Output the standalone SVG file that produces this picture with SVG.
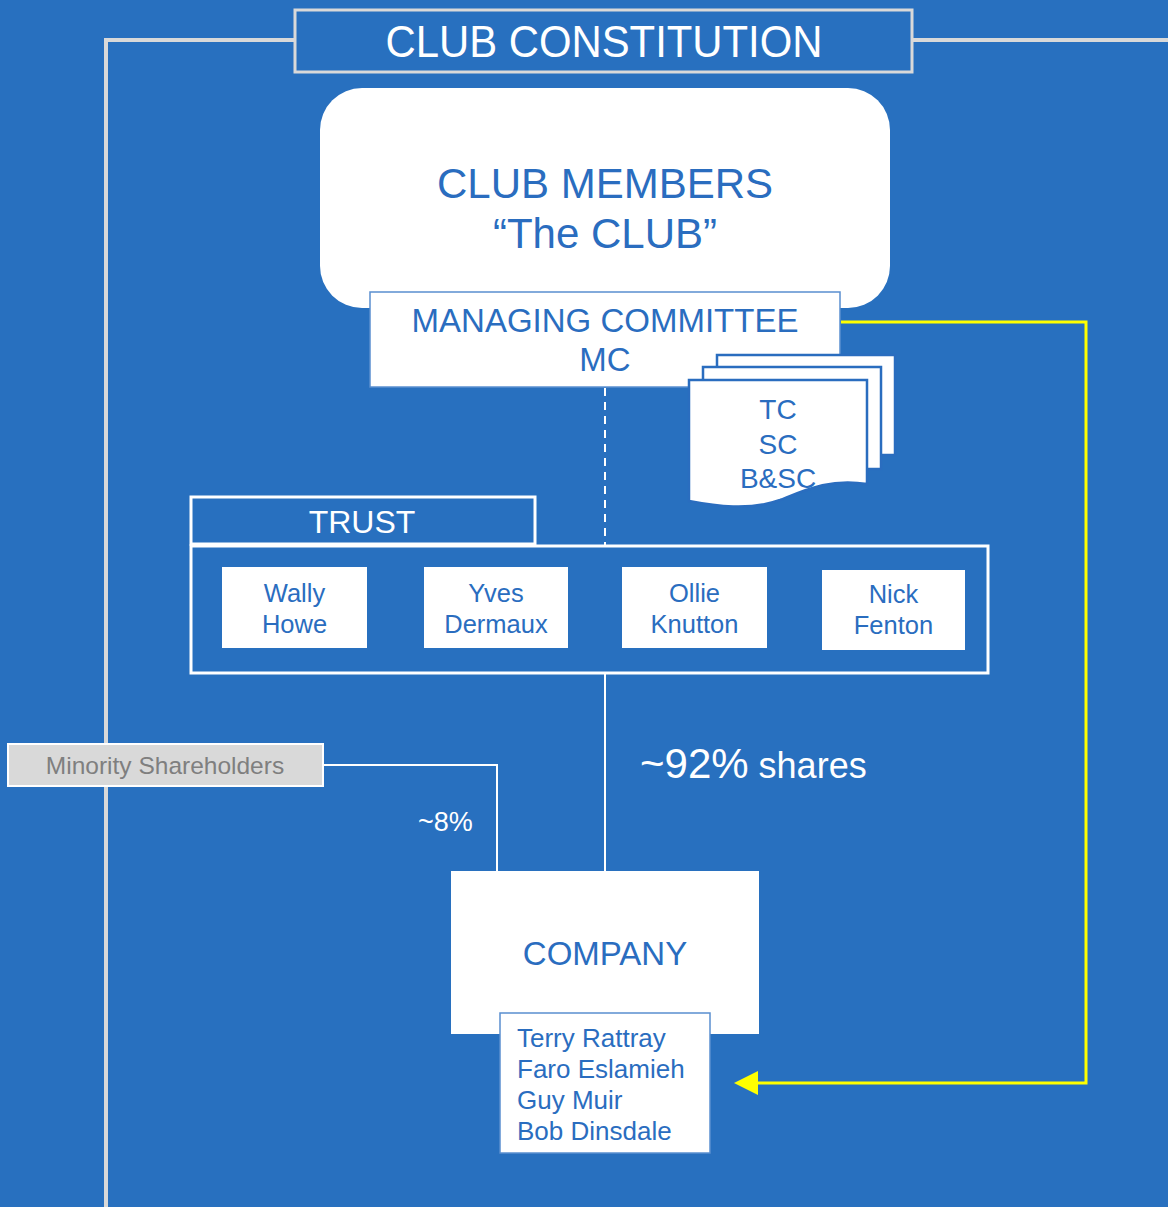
<svg xmlns="http://www.w3.org/2000/svg" width="1168" height="1207" viewBox="0 0 1168 1207">
<defs>
<style>
.t{font-family:"Liberation Sans",Arial,sans-serif;}
.w{fill:#ffffff;}
.b{fill:#2A6DBF;}
.box{fill:#ffffff;}
.frame{fill:none;stroke:#ffffff;stroke-width:3;}
.page{fill:#ffffff;stroke:#2A6DBF;stroke-width:2.5;}
</style>
</defs>
<rect x="0" y="0" width="1168" height="1207" fill="#2870BF"/>
<g id="connectors" fill="none">
<path d="M106,1207 V40 H295 M912,40 H1168" stroke="#d9d9d9" stroke-width="4"/>
<line x1="605" y1="388" x2="605" y2="545" stroke="#ffffff" stroke-width="2" stroke-dasharray="8,6"/>
<line x1="605" y1="673" x2="605" y2="871" stroke="#ffffff" stroke-width="2"/>
<path d="M323,765 H497 V871" stroke="#ffffff" stroke-width="2"/>
<path d="M841,322 H1086 V1083 H750" stroke="#ffff00" stroke-width="3"/>
<path d="M734,1083 L758,1071 L758,1095 Z" fill="#ffff00"/>
</g>
<g id="constitution">
<rect x="295" y="10" width="617" height="62" fill="#2870BF" stroke="#d9d9d9" stroke-width="3"/>
<text class="t w" x="604" y="57" font-size="44" text-anchor="middle" textLength="437" lengthAdjust="spacingAndGlyphs">CLUB CONSTITUTION</text>
</g>
<g id="members">
<rect x="320" y="88" width="570" height="220" rx="42" class="box"/>
<text class="t b" x="605" y="198" font-size="42" text-anchor="middle">CLUB MEMBERS</text>
<text class="t b" x="605" y="248" font-size="42" text-anchor="middle">“The CLUB”</text>
</g>
<g id="mc">
<rect x="370" y="292" width="470" height="95" fill="#ffffff" stroke="#5a8fd0" stroke-width="1.5"/>
<text class="t b" x="605" y="332" font-size="33" text-anchor="middle">MANAGING COMMITTEE</text>
<text class="t b" x="605" y="371" font-size="33" text-anchor="middle">MC</text>
</g>
<g id="subcommittees">
<rect x="717" y="355" width="178" height="100" class="page"/>
<rect x="703" y="367" width="178" height="102" class="page"/>
<path d="M689,380 H867 V484 C830,478 805,490 780,500 C750,511 715,506 689,501 Z" class="page"/>
<text class="t b" x="778" y="419" font-size="28" text-anchor="middle">TC</text>
<text class="t b" x="778" y="454" font-size="28" text-anchor="middle">SC</text>
<text class="t b" x="778" y="488" font-size="28" text-anchor="middle">B&amp;SC</text>
</g>
<g id="trust">
<rect x="191" y="497" width="344" height="47" class="frame"/>
<text class="t w" x="362" y="533" font-size="32" text-anchor="middle">TRUST</text>
<rect x="191" y="546" width="797" height="127" class="frame"/>
</g>
<g id="wally">
<rect x="222" y="567" width="145" height="81" class="box"/>
<text class="t b" x="294.5" y="602" font-size="25.5" text-anchor="middle">Wally</text>
<text class="t b" x="294.5" y="633" font-size="25.5" text-anchor="middle">Howe</text>
</g>
<g id="yves">
<rect x="424" y="567" width="144" height="81" class="box"/>
<text class="t b" x="496" y="602" font-size="25.5" text-anchor="middle">Yves</text>
<text class="t b" x="496" y="633" font-size="25.5" text-anchor="middle">Dermaux</text>
</g>
<g id="ollie">
<rect x="622" y="567" width="145" height="81" class="box"/>
<text class="t b" x="694.5" y="602" font-size="25.5" text-anchor="middle">Ollie</text>
<text class="t b" x="694.5" y="633" font-size="25.5" text-anchor="middle">Knutton</text>
</g>
<g id="nick">
<rect x="822" y="570" width="143" height="80" class="box"/>
<text class="t b" x="893.5" y="603" font-size="25.5" text-anchor="middle">Nick</text>
<text class="t b" x="893.5" y="634" font-size="25.5" text-anchor="middle">Fenton</text>
</g>
<g id="labels">
<text class="t w" x="640" y="778"><tspan font-size="42">~92%</tspan><tspan font-size="36"> shares</tspan></text>
<text class="t w" x="418" y="831" font-size="27">~8%</text>
</g>
<g id="minority">
<rect x="8" y="744" width="315" height="42" fill="#d9d9d9" stroke="#ffffff" stroke-width="2"/>
<text class="t" x="165" y="774" font-size="24.5" fill="#7f7f7f" text-anchor="middle">Minority Shareholders</text>
</g>
<g id="company">
<rect x="451" y="871" width="308" height="163" class="box"/>
<text class="t b" x="605" y="965" font-size="33" text-anchor="middle">COMPANY</text>
</g>
<g id="directors">
<rect x="500" y="1013" width="210" height="140" fill="#ffffff" stroke="#5a8fd0" stroke-width="1.5"/>
<text class="t b" x="517" y="1047" font-size="26">Terry Rattray</text>
<text class="t b" x="517" y="1078" font-size="26">Faro Eslamieh</text>
<text class="t b" x="517" y="1109" font-size="26">Guy Muir</text>
<text class="t b" x="517" y="1140" font-size="26">Bob Dinsdale</text>
</g>
</svg>
